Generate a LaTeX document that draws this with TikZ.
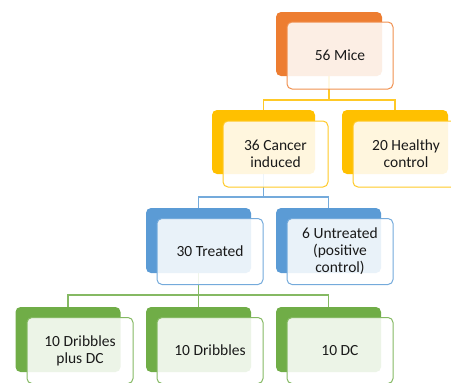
\documentclass[tikz,border=0pt]{standalone}
\usepackage{fontspec}
\setmainfont{Carlito}
\usetikzlibrary{backgrounds}
\definecolor{cOrange}{HTML}{ED7D31}
\definecolor{cYellow}{HTML}{FFC000}
\definecolor{cBlue}{HTML}{5B9BD5}
\definecolor{cGreen}{HTML}{70AD47}
\definecolor{cText}{HTML}{1A1A1A}
\tikzset{
  backbox/.style={draw=none, fill=#1, rounded corners=5pt, minimum width=105pt, minimum height=65pt, inner sep=0pt},
  frontbox/.style={draw=#1!85!white, line width=1pt, fill=white, fill opacity=0.87, text opacity=1, text=cText,
    rounded corners=5pt, minimum width=106pt, minimum height=66pt, inner sep=0pt, align=center,
    font=\fontsize{15.5}{17}\selectfont},
  conn/.style={draw=#1, line width=1.2pt}
}
\begin{document}
\begin{tikzpicture}[x=1pt,y=-1pt]
\useasboundingbox (0,0) rectangle (451,383);
\clip (0,0) rectangle (451,383);
% bus coordinates
\coordinate (bus1) at (0,100);
\coordinate (bus2) at (0,197);
\coordinate (bus3) at (0,295);
% level 1
\node[backbox=cOrange, minimum width=106pt, minimum height=64pt] (miceB) at (329,44) {};
\node[frontbox=cOrange, minimum height=67pt] (miceF) at (340,55.5) {56 Mice};
% level 2
\node[backbox=cYellow, minimum width=103pt, minimum height=64pt] (cancerB) at (263.5,142) {};
\node[frontbox=cYellow, minimum width=105pt] (cancerF) at (275.5,154) {36 Cancer\\induced};
\node[backbox=cYellow, minimum width=106pt, minimum height=64pt] (healthyB) at (395,142) {};
\node[frontbox=cYellow, minimum width=106pt] (healthyF) at (406,154) {20 Healthy\\control};
% level 3
\node[backbox=cBlue] (treatedB) at (198.5,240.5) {};
\node[frontbox=cBlue] (treatedF) at (210,251.5) {30 Treated};
\node[backbox=cBlue] (untreatedB) at (328.5,240.5) {};
\node[frontbox=cBlue] (untreatedF) at (340,251.5) {6 Untreated\\(positive\\control)};
% level 4
\node[backbox=cGreen] (dc1B) at (68,339.5) {};
\node[frontbox=cGreen] (dc1F) at (80,350.5) {10 Dribbles\\plus DC};
\node[backbox=cGreen] (dribB) at (198.5,339.5) {};
\node[frontbox=cGreen] (dribF) at (210,350.5) {10 Dribbles};
\node[backbox=cGreen] (dcB) at (328.5,339.5) {};
\node[frontbox=cGreen] (dcF) at (340,350.5) {10 DC};
% connectors (under boxes)
\begin{pgfonlayer}{background}
\draw[conn=cYellow!85!white] (miceB.center) -- (miceB.center |- bus1) -| (cancerB.north);
\draw[conn=cYellow!85!white] (miceB.center |- bus1) -| (healthyB.north);
\draw[conn=cBlue!85!white] (cancerB.center) -- (cancerB.center |- bus2) -| (treatedB.north);
\draw[conn=cBlue!85!white] (cancerB.center |- bus2) -| (untreatedB.north);
\draw[conn=cGreen!85!white] (treatedB.center) -- (treatedB.center |- bus3) -| (dc1B.north);
\draw[conn=cGreen!85!white] (treatedB.center |- bus3) -| (dribB.north);
\draw[conn=cGreen!85!white] (treatedB.center |- bus3) -| (dcB.north);
\end{pgfonlayer}
\end{tikzpicture}
\end{document}
